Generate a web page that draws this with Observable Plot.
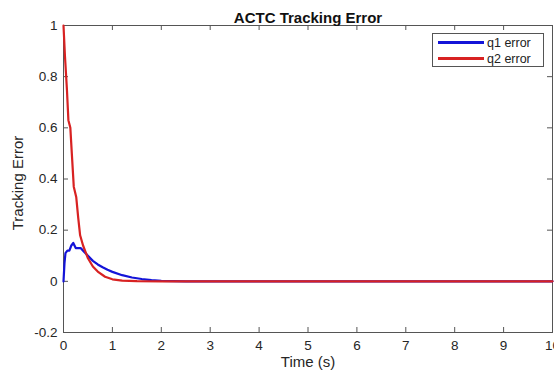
<!DOCTYPE html>
<html>
<head>
<meta charset="utf-8">
<script src="https://cdn.jsdelivr.net/npm/d3@7"></script>
<script src="https://cdn.jsdelivr.net/npm/@observablehq/plot@0.6"></script>
<style>
  html, body { margin: 0; padding: 0; background: #fff; }
  #wrap { position: relative; width: 554px; height: 370px; font-family: "Liberation Sans", Arial, sans-serif; }
  #legend { position: absolute; left: 432px; top: 33px; width: 112px; height: 34px; border: 1px solid #555; background: #fff; box-sizing: border-box; font-size: 12.5px; color: #222; }
  .row { display: flex; align-items: center; height: 15px; margin-top: 1px; padding-left: 5px; }
  .sw { width: 46px; height: 2.4px; margin-right: 3px; }
</style>
</head>
<body>
<div id="wrap"><div id="legend"></div></div>
<script>
const q1Time = [0, 0.02, 0.04, 0.08, 0.12, 0.16, 0.2, 0.25, 0.3, 0.35, 0.4, 0.5, 0.6, 0.7, 0.8, 0.9, 1.0, 1.2, 1.4, 1.6, 1.8, 2.0, 2.5, 10];
const q1Error = [0, 0.07, 0.11, 0.12, 0.12, 0.14, 0.15, 0.13, 0.13, 0.13, 0.12, 0.10, 0.08, 0.066, 0.055, 0.045, 0.037, 0.024, 0.015, 0.009, 0.005, 0.002, 0, 0];
const q2Time = [0, 0.03, 0.07, 0.1, 0.14, 0.17, 0.21, 0.26, 0.3, 0.34, 0.4, 0.5, 0.6, 0.7, 0.85, 1.0, 1.2, 1.5, 2, 10];
const q2Error = [1, 0.88, 0.75, 0.63, 0.60, 0.50, 0.37, 0.33, 0.25, 0.18, 0.14, 0.09, 0.058, 0.038, 0.018, 0.008, 0.003, 0.001, 0, 0];
const seriesNames = ["q1 error", "q2 error"];
const seriesColors = ["#1414d8", "#d82222"];
const xTicks = [0, 1, 2, 3, 4, 5, 6, 7, 8, 9, 10];
const yTicks = [-0.2, 0, 0.2, 0.4, 0.6, 0.8, 1];
const titleText = "ACTC Tracking Error";
const xLabel = "Time (s)";
const yLabel = "Tracking Error";

const q1 = q1Time.map((t, i) => ({t, v: q1Error[i]}));
const q2 = q2Time.map((t, i) => ({t, v: q2Error[i]}));
const xDomain = [0, 10], yDomain = [-0.2, 1];
const W = 554, H = 370, mT = 25, mL = 63, mR = 2, mB = 38;
const tickLen = 5;
// tick length expressed in data units of each scale
const tx = tickLen * (xDomain[1] - xDomain[0]) / (W - mL - mR);
const ty = tickLen * (yDomain[1] - yDomain[0]) / (H - mT - mB);

const chart = Plot.plot({
  width: W,
  height: H,
  marginTop: mT,
  marginLeft: mL,
  marginRight: mR,
  marginBottom: mB,
  style: {fontFamily: "Liberation Sans, Arial, sans-serif", fontSize: "13px", color: "#262626", background: "#fff"},
  x: {domain: xDomain},
  y: {domain: yDomain},
  marks: [
    Plot.frame({stroke: "#555", strokeWidth: 1}),
    Plot.axisX({ticks: xTicks, tickSize: 0, tickPadding: 8, tickFormat: d => String(d), label: null, fontSize: 13.5}),
    Plot.axisY({ticks: yTicks, tickSize: 0, tickPadding: 6, tickFormat: d => String(+d.toFixed(1)), label: null, fontSize: 13.5}),
    Plot.ruleX(xTicks, {x: d => d, y1: yDomain[0], y2: yDomain[0] + ty, stroke: "#555"}),
    Plot.ruleX(xTicks, {x: d => d, y1: yDomain[1], y2: yDomain[1] - ty, stroke: "#555"}),
    Plot.ruleY(yTicks, {y: d => d, x1: xDomain[0], x2: xDomain[0] + tx, stroke: "#555"}),
    Plot.ruleY(yTicks, {y: d => d, x1: xDomain[1], x2: xDomain[1] - tx, stroke: "#555"}),
    Plot.line(q1, {x: "t", y: "v", stroke: seriesColors[0], strokeWidth: 2.2}),
    Plot.line(q2, {x: "t", y: "v", stroke: seriesColors[1], strokeWidth: 2.2}),
    Plot.text([titleText], {frameAnchor: "top", dy: -13, fontWeight: "bold", fontSize: 15, fill: "#111"}),
    Plot.text([xLabel], {frameAnchor: "bottom", dy: 34, fontSize: 15, fill: "#262626"}),
    Plot.text([yLabel], {frameAnchor: "left", textAnchor: "middle", dx: -45, dy: 4, rotate: -90, fontSize: 15, fill: "#262626"})
  ]
});

const wrap = document.getElementById("wrap");
wrap.insertBefore(chart, wrap.firstChild);

const legend = document.getElementById("legend");
seriesNames.forEach((name, i) => {
  const row = document.createElement("div");
  row.className = "row";
  const sw = document.createElement("div");
  sw.className = "sw";
  sw.style.background = seriesColors[i];
  const lab = document.createElement("span");
  lab.textContent = name;
  row.appendChild(sw);
  row.appendChild(lab);
  legend.appendChild(row);
});
</script>
</body>
</html>
